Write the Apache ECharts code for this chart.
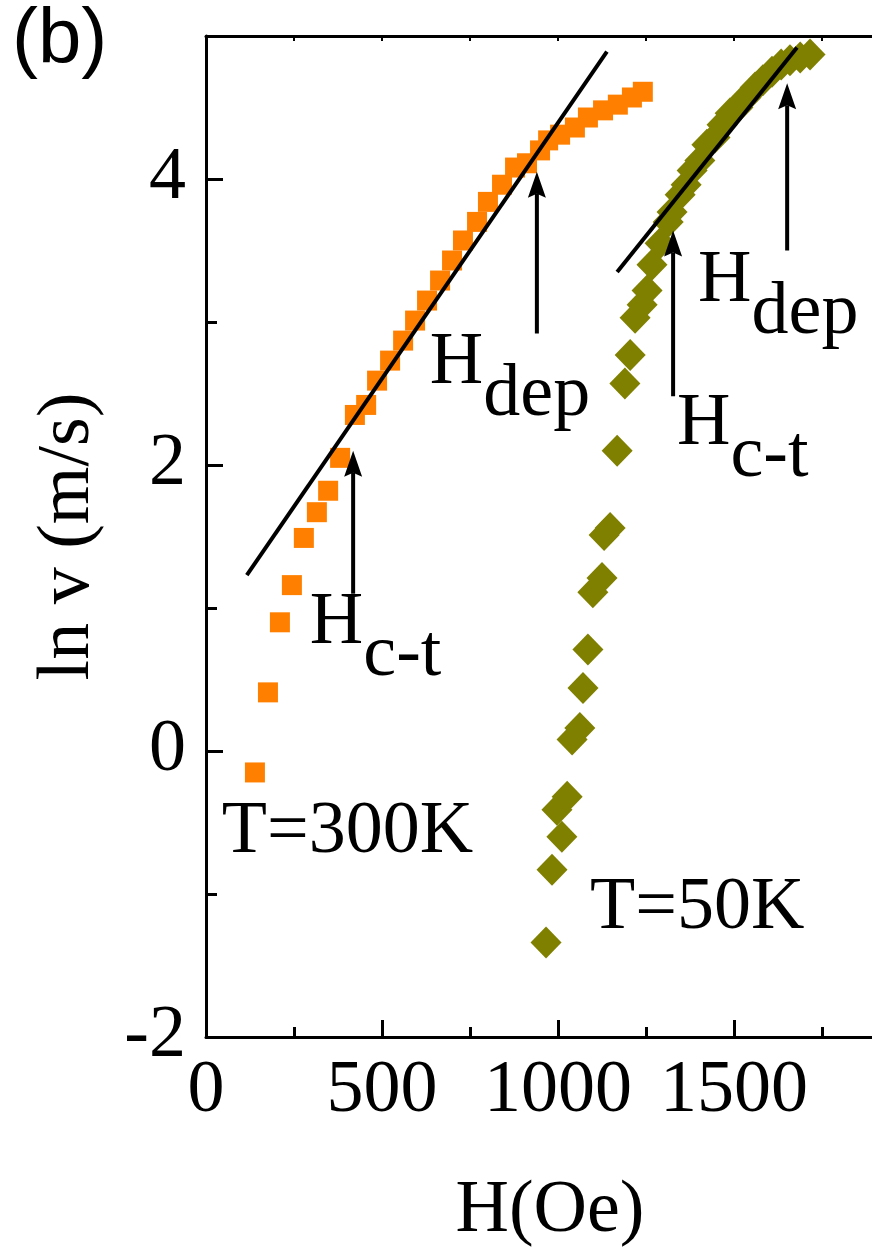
<!DOCTYPE html>
<html>
<head>
<meta charset="utf-8">
<script src="https://cdn.jsdelivr.net/npm/echarts@6/dist/echarts.min.js"></script>
<style>
  html, body { margin: 0; padding: 0; background: #fff; }
  #chart { width: 872px; height: 1255px; }
</style>
</head>
<body>
<div id="chart"></div>
<script>
// Domain-wall velocity vs. applied field, two temperatures
const H300  = [139, 176, 210, 244, 278, 315, 347, 381, 423, 455, 486, 523, 560, 594, 628, 665,
               699, 730, 770, 801, 841, 878, 912, 949, 972, 1006, 1048, 1085, 1128, 1170, 1210, 1241];
const lnv300 = [-0.15, 0.41, 0.90, 1.16, 1.49, 1.67, 1.82, 2.05, 2.35, 2.42, 2.59, 2.73, 2.87, 3.01, 3.15, 3.29,
               3.43, 3.57, 3.70, 3.84, 3.96, 4.08, 4.11, 4.20, 4.27, 4.31, 4.36, 4.43, 4.48, 4.52, 4.57, 4.61];

const H50   = [966, 983, 1011, 997, 1026, 1040, 1062, 1071, 1085, 1099, 1125, 1131, 1148, 1168, 1190, 1205,
               1219, 1239, 1253, 1267, 1290, 1313, 1324, 1347, 1364, 1381, 1403, 1423, 1446, 1466, 1489, 1511,
               1534, 1560, 1582, 1608, 1634, 1659, 1688, 1716];
const lnv50 = [-1.34, -0.83, -0.60, -0.41, -0.32, 0.08, 0.16, 0.44, 0.71, 1.11, 1.21, 1.51, 1.56, 2.10, 2.57, 2.77,
               3.03, 3.12, 3.22, 3.40, 3.55, 3.70, 3.77, 3.89, 3.96, 4.06, 4.13, 4.24, 4.29, 4.38, 4.46, 4.50,
               4.57, 4.64, 4.69, 4.75, 4.80, 4.83, 4.85, 4.87];

// Linear fits (end points)
const fit300H = [116, 1139];
const fit300V = [1.23, 4.89];
const fit50H  = [1168, 1679];
const fit50V  = [3.35, 4.92];

// Arrows marking the characteristic fields: field, tail, head
const arrowH    = [418, 940, 1327, 1651];
const arrowTail = [1.10, 2.92, 2.48, 3.50];
const arrowTip  = [2.10, 4.05, 3.64, 4.67];

// Text annotations: main text, subscript, anchor (left edge, middle of main text)
const noteText = ['H', 'H', 'H', 'H', 'T=300K', 'T=50K'];
const noteSub  = ['c-t', 'dep', 'c-t', 'dep', '', ''];
const noteH    = [295, 636, 1338, 1398, 45, 1091];
const noteV    = [0.89, 2.71, 2.28, 3.28, -0.57, -1.10];

const xTicks = [0, 500, 1000, 1500];
const yTicks = [-2, 0, 2, 4];

const SERIF = 'Liberation Serif';
const FS = 74;

const chart = echarts.init(document.getElementById('chart'), null, { renderer: 'canvas' });

const zip = (a, b) => a.map((v, i) => [v, b[i]]);

const axisLineStyle = { color: '#000', width: 3 };

chart.setOption({
  backgroundColor: '#fff',
  animation: false,
  grid: {
    left: 206, top: 36, bottom: 218, right: -38,
    containLabel: false, outerBoundsMode: 'none'
  },
  graphic: [{
    type: 'text', left: 12, top: 2,
    style: { text: '(b)', fontFamily: 'Liberation Sans', fontSize: 78, fill: '#000' }
  }],
  xAxis: [{
    type: 'value', position: 'bottom', min: 0, max: 2000, interval: 500,
    name: 'H(Oe)', nameLocation: 'middle', nameGap: 138,
    nameTextStyle: { fontFamily: SERIF, fontSize: FS, color: '#000', padding: [0, 16, 0, 0] },
    axisLine: { show: true, onZero: false, lineStyle: axisLineStyle },
    axisTick: { show: true, inside: true, length: 17, lineStyle: { color: '#000', width: 3 } },
    minorTick: { show: true, splitNumber: 2, length: 10, lineStyle: { color: '#000', width: 3 } },
    axisLabel: {
      fontFamily: SERIF, fontSize: FS, color: '#000', margin: 18,
      formatter: v => (xTicks.includes(v) ? String(v) : '')
    },
    splitLine: { show: false }
  }, {
    type: 'value', position: 'top', min: 0, max: 2000, interval: 250,
    axisLine: { show: true, onZero: false, lineStyle: axisLineStyle },
    axisTick: { show: true, inside: true, length: 5, lineStyle: { color: '#000', width: 2 } },
    axisLabel: { show: false },
    splitLine: { show: false }
  }],
  yAxis: [{
    type: 'value', position: 'left', min: -2, max: 5, interval: 2,
    name: 'ln v (m/s)', nameLocation: 'middle', nameGap: 100, nameRotate: 90,
    nameTextStyle: { fontFamily: SERIF, fontSize: FS, color: '#000' },
    axisLine: { show: true, onZero: false, lineStyle: axisLineStyle },
    axisTick: { show: true, inside: true, length: 17, lineStyle: { color: '#000', width: 3 } },
    axisLabel: {
      fontFamily: SERIF, fontSize: FS, color: '#000', margin: 20, showMaxLabel: false,
      formatter: v => (yTicks.includes(v) ? String(v) : '')
    },
    splitLine: { show: false }
  }, {
    // minor ticks every 1 unit
    type: 'value', position: 'left', min: -2, max: 5, interval: 1,
    axisLine: { show: false, onZero: false },
    axisTick: { show: true, inside: true, length: 11, lineStyle: { color: '#000', width: 3 } },
    axisLabel: { show: false },
    splitLine: { show: false }
  }, {
    type: 'value', position: 'right', min: -2, max: 5, interval: 1,
    axisLine: { show: true, onZero: false, lineStyle: axisLineStyle },
    axisTick: { show: false }, axisLabel: { show: false }, splitLine: { show: false }
  }],
  series: [
    {
      name: 'T=300K', type: 'scatter', xAxisIndex: 0, yAxisIndex: 0,
      symbol: 'rect', symbolSize: 20,
      itemStyle: { color: '#ff8000', opacity: 1 },
      data: zip(H300, lnv300), z: 2, silent: true
    },
    {
      name: 'T=50K', type: 'scatter', xAxisIndex: 0, yAxisIndex: 0,
      symbol: 'diamond', symbolSize: [31, 32],
      itemStyle: { color: '#7f7f00', opacity: 1 },
      data: zip(H50, lnv50), z: 2, silent: true
    },
    {
      name: 'fit 300K', type: 'line', xAxisIndex: 0, yAxisIndex: 0,
      showSymbol: false, symbol: 'none',
      lineStyle: { color: '#000', width: 4 },
      data: zip(fit300H, fit300V), z: 3, silent: true
    },
    {
      name: 'fit 50K', type: 'line', xAxisIndex: 0, yAxisIndex: 0,
      showSymbol: false, symbol: 'none',
      lineStyle: { color: '#000', width: 4 },
      data: zip(fit50H, fit50V), z: 3, silent: true
    },
    {
      name: 'arrows', type: 'custom', xAxisIndex: 0, yAxisIndex: 0,
      encode: { x: 0, y: [1, 2] },
      data: arrowH.map((h, i) => [h, arrowTail[i], arrowTip[i]]),
      z: 4, silent: true,
      renderItem: (params, api) => {
        const p0 = api.coord([api.value(0), api.value(1)]);
        const p1 = api.coord([api.value(0), api.value(2)]);
        const headLen = 26, half = 9;
        return {
          type: 'group',
          children: [
            { type: 'line', shape: { x1: p0[0], y1: p0[1], x2: p1[0], y2: p1[1] + headLen - 4 },
              style: { stroke: '#000', lineWidth: 4 } },
            { type: 'polygon',
              shape: { points: [[p1[0], p1[1]], [p1[0] - half, p1[1] + headLen],
                                [p1[0], p1[1] + headLen - 4], [p1[0] + half, p1[1] + headLen]] },
              style: { fill: '#000' } }
          ]
        };
      }
    },
    {
      name: 'notes', type: 'custom', xAxisIndex: 0, yAxisIndex: 0,
      encode: { x: 0, y: 1 },
      data: noteText.map((t, i) => [noteH[i], noteV[i], i]),
      z: 5, silent: true,
      renderItem: (params, api) => {
        const i = api.value(2);
        const p = api.coord([api.value(0), api.value(1)]);
        const text = noteSub[i]
          ? '{m|' + noteText[i] + '}{s|' + noteSub[i] + '}'
          : '{m|' + noteText[i] + '}';
        return {
          type: 'text', x: p[0], y: p[1],
          style: {
            text: text, align: 'left', verticalAlign: 'middle', fill: '#000',
            fontFamily: SERIF, fontSize: FS,
            rich: {
              m: { fontFamily: SERIF, fontSize: FS, lineHeight: FS, fill: '#000' },
              s: { fontFamily: SERIF, fontSize: FS, lineHeight: FS, fill: '#000', padding: [64, 0, 0, 0] }
            }
          }
        };
      }
    }
  ]
});
</script>
</body>
</html>
